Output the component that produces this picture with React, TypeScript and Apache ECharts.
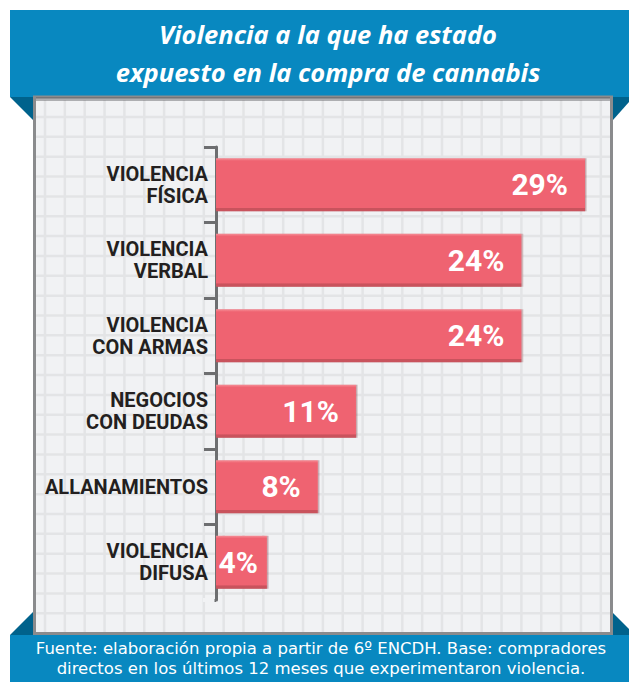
import React, { useEffect, useRef } from "react";
import * as echarts from "echarts";

const categories = [
  "VIOLENCIA\nFÍSICA",
  "VIOLENCIA\nVERBAL",
  "VIOLENCIA\nCON ARMAS",
  "NEGOCIOS\nCON DEUDAS",
  "ALLANAMIENTOS",
  "VIOLENCIA\nDIFUSA",
];
const values = [29, 24, 24, 11, 8, 4];
const titleLines = ["Violencia a la que ha estado", "expuesto en la compra de cannabis"];
const footerLines = [
  "Fuente: elaboración propia a partir de 6º ENCDH. Base: compradores",
  "directos en los últimos 12 meses que experimentaron violencia.",
];

const LABEL_FONT = '"Roboto", "Liberation Sans", sans-serif';
const BLUE = "#0888c0";
const DARK_BLUE = "#00628c";
const PANEL_BG = "#f1f2f4";

function buildGraphics() {
  const els: any[] = [];
  els.push({ type: "rect", z: -20, shape: { x: 10, y: 10, width: 619, height: 87 }, style: { fill: BLUE } });
  els.push({ type: "polygon", z: -20, shape: { points: [[10, 97], [33, 97], [33, 120]] }, style: { fill: DARK_BLUE } });
  els.push({ type: "polygon", z: -20, shape: { points: [[613, 97], [629, 97], [629, 102], [613, 120]] }, style: { fill: DARK_BLUE } });
  els.push({ type: "polygon", z: -20, shape: { points: [[33, 612], [33, 635], [10, 635]] }, style: { fill: DARK_BLUE } });
  els.push({ type: "polygon", z: -20, shape: { points: [[613, 613], [629, 629], [629, 635], [613, 635]] }, style: { fill: DARK_BLUE } });
  els.push({ type: "rect", z: -19, shape: { x: 34.5, y: 97, width: 577, height: 536.5 }, style: { fill: PANEL_BG, stroke: "#8a8b8d", lineWidth: 3 } });
  for (let x = 45; x < 611; x += 19.85) {
    els.push({ type: "line", z: -18, shape: { x1: x, y1: 100, x2: x, y2: 632 }, style: { stroke: "#e3e4e6", lineWidth: 2.5 } });
  }
  for (let y = 117; y < 632; y += 19.85) {
    els.push({ type: "line", z: -18, shape: { x1: 36, y1: y, x2: 610, y2: y }, style: { stroke: "#e3e4e6", lineWidth: 2.5 } });
  }
  els.push({ type: "rect", z: -17, shape: { x: 36, y: 97, width: 574, height: 4 }, style: { fill: "rgba(90,90,95,0.45)" } });
  els.push({ type: "rect", z: -16, shape: { x: 10, y: 635, width: 619, height: 47 }, style: { fill: BLUE } });
  // hide the closing tick at the bottom end of the category axis (reference has none)
  els.push({ type: "rect", z: 20, shape: { x: 203, y: 598, width: 11.5, height: 4 }, style: { fill: PANEL_BG } });
  const titleY = [34, 72];
  titleLines.forEach((t, i) => {
    els.push({
      type: "text",
      z: 50,
      x: 328,
      y: titleY[i],
      style: {
        text: t,
        fill: "#ffffff",
        fontStyle: "italic",
        fontWeight: "bold",
        fontSize: 25.5,
        fontFamily: '"Open Sans", "Lato", sans-serif',
        textAlign: "center",
        textVerticalAlign: "middle",
      },
    });
  });
  const footY = [648, 668];
  footerLines.forEach((t, i) => {
    els.push({
      type: "text",
      z: 50,
      x: 321,
      y: footY[i],
      style: {
        text: t,
        fill: "#ffffff",
        fontSize: 16.5,
        fontFamily: '"DejaVu Sans", "Noto Sans", sans-serif',
        textAlign: "center",
        textVerticalAlign: "middle",
      },
    });
  });
  return els;
}

export default function App() {
  const ref = useRef<HTMLDivElement>(null);
  useEffect(() => {
    if (!ref.current) return;
    const chart = echarts.init(ref.current, null, { renderer: "svg" });
    const barColor = new echarts.graphic.LinearGradient(0, 0, 0, 1, [
      { offset: 0, color: "#f58e97" },
      { offset: 0.05, color: "#ef6471" },
      { offset: 0.93, color: "#ef6471" },
      { offset: 0.945, color: "#c9525d" },
      { offset: 1, color: "#c9525d" },
    ]);
    chart.setOption({
      animation: false,
      backgroundColor: "#ffffff",
      graphic: { elements: buildGraphics() },
      grid: { left: 216, top: 147, width: 369, height: 453, containLabel: false },
      xAxis: {
        type: "value",
        min: 0,
        max: 29,
        show: false,
        splitLine: { show: false },
      },
      yAxis: {
        type: "category",
        data: categories,
        inverse: true,
        axisLine: { show: true, lineStyle: { color: "#6d6e70", width: 3 } },
        axisTick: { show: true, length: 12, lineStyle: { color: "#6d6e70", width: 3 } },
        axisLabel: {
          color: "#231f20",
          fontFamily: LABEL_FONT,
          fontWeight: "bold",
          fontSize: 20,
          lineHeight: 22,
          align: "right",
          margin: 8,
        },
      },
      series: [
        {
          type: "bar",
          barWidth: 53,
          data: values.map((v) => ({
            value: v,
            label: { distance: v < 6 ? 9 : 17 },
          })),
          itemStyle: {
            color: barColor,
            shadowColor: "rgba(120,30,40,0.35)",
            shadowOffsetX: 1.5,
            shadowOffsetY: 0,
            shadowBlur: 0,
          },
          label: {
            show: true,
            position: "insideRight",
            formatter: "{c}%",
            color: "#ffffff",
            fontFamily: LABEL_FONT,
            fontWeight: "bold",
            fontSize: 30,
          },
        },
      ],
    });
    return () => chart.dispose();
  }, []);
  return (
    <div
      ref={ref}
      style={{ position: "fixed", left: 0, top: 0, width: 629, height: 682 }}
    />
  );
}
